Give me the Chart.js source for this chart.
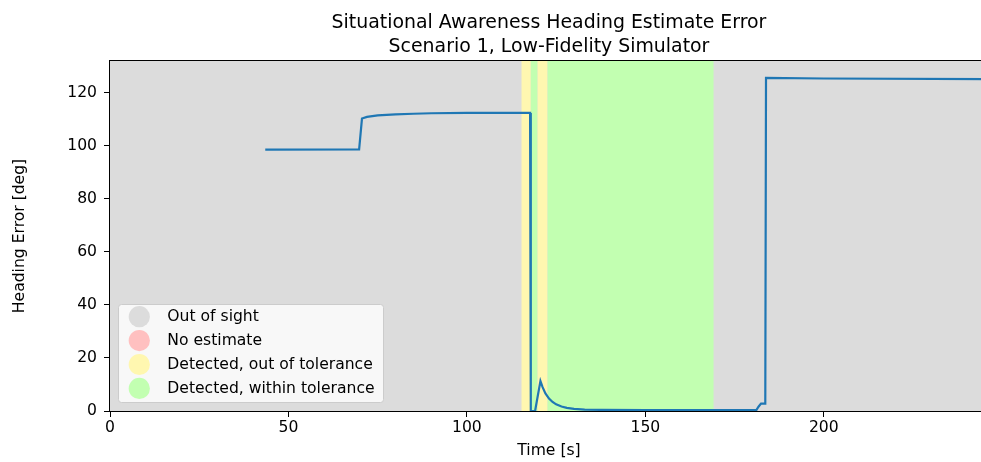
<!DOCTYPE html>
<html>
<head>
<meta charset="utf-8">
<script src="https://cdn.jsdelivr.net/npm/chart.js@4.4.1/dist/chart.umd.min.js"></script>
<style>
    html, body { margin: 0; padding: 0; background: #fff; overflow: hidden; }
    #wrap { width: 988px; height: 462px; }
</style>
</head>
<body>
<div id="wrap"><canvas id="myChart" width="988" height="462"></canvas></div>
<script>
var titleLines = ['Situational Awareness Heading Estimate Error', 'Scenario 1, Low-Fidelity Simulator'];

// heading error trace
var times   = [43.5, 69.8, 70.6, 72, 75, 80, 85, 90, 100, 117.7, 117.9, 119.1, 120.6, 121.2, 122, 123, 124, 125, 126.5, 128, 130, 133, 138, 150, 181.1, 181.7, 182.4, 183.6, 183.8, 200, 246];
var heading = [98.6, 98.7, 110.3, 110.9, 111.5, 111.9, 112.1, 112.3, 112.4, 112.4, 0, 0, 11.3, 9.0, 6.6, 4.7, 3.4, 2.5, 1.7, 1.2, 0.8, 0.55, 0.4, 0.35, 0.35, 1.6, 2.8, 2.8, 125.6, 125.4, 125.2];

// detection states
var stateNames  = ['Out of sight', 'No estimate', 'Detected, out of tolerance', 'Detected, within tolerance'];
var stateColors = ['#dcdcdc', '#ffc0c0', '#fff7b0', '#c2ffb1'];

// periods where the state differs from "out of sight"
var spanStart = [115.3, 117.9, 119.8, 122.6];
var spanEnd   = [117.9, 119.8, 122.6, 169.1];
var spanState = [2, 3, 2, 3];

var xTicksStep = 50;
var yTicksStep = 20;

var FONT = 'DejaVu Sans';
var LABEL_SIZE = 15.6;

var points = times.map(function (t, i) { return { x: t, y: heading[i] }; });

var shading = {
    id: 'shading',
    beforeDatasetsDraw: function (chart) {
        var ctx = chart.ctx, a = chart.chartArea, x = chart.scales.x;
        ctx.save();
        ctx.fillStyle = stateColors[0];
        ctx.fillRect(a.left, a.top, a.right - a.left, a.bottom - a.top);
        for (var i = 0; i < spanStart.length; i++) {
            var x0 = x.getPixelForValue(spanStart[i]);
            var x1 = x.getPixelForValue(spanEnd[i]);
            ctx.fillStyle = stateColors[spanState[i]];
            ctx.fillRect(x0, a.top, x1 - x0, a.bottom - a.top);
        }
        ctx.restore();
    },
    afterDatasetsDraw: function (chart) {
        var ctx = chart.ctx, a = chart.chartArea;
        ctx.save();
        ctx.strokeStyle = '#000';
        ctx.lineWidth = 1;
        ctx.strokeRect(a.left - 0.5, a.top - 0.5, a.right - a.left + 1, a.bottom - a.top + 1);
        ctx.restore();
    },
    afterDraw: function (chart) {
        var ctx = chart.ctx, a = chart.chartArea;
        ctx.save();
        // title
        ctx.fillStyle = '#000';
        ctx.font = '18.9px "' + FONT + '"';
        ctx.textAlign = 'center';
        ctx.textBaseline = 'alphabetic';
        var cx = (a.left + a.right) / 2;
        ctx.fillText(titleLines[0], cx, 27.5);
        ctx.fillText(titleLines[1], cx, 51.5);

        // legend box
        var bx = 118.5, by = 304.5, bw = 265, bh = 98;
        ctx.beginPath();
        ctx.roundRect(bx, by, bw, bh, 3);
        ctx.fillStyle = 'rgba(255,255,255,0.8)';
        ctx.fill();
        ctx.strokeStyle = '#cccccc';
        ctx.lineWidth = 1;
        ctx.stroke();
        ctx.font = LABEL_SIZE + 'px "' + FONT + '"';
        ctx.textAlign = 'left';
        ctx.textBaseline = 'middle';
        for (var i = 0; i < stateNames.length; i++) {
            var cy = 316.7 + i * 23.9;
            ctx.beginPath();
            ctx.arc(139.3, cy, 10.6, 0, Math.PI * 2);
            ctx.fillStyle = stateColors[i];
            ctx.fill();
            ctx.fillStyle = '#000';
            ctx.fillText(stateNames[i], 167.3, cy + 0.5);
        }
        ctx.restore();
    }
};

var ctx = document.getElementById('myChart').getContext('2d');
var myChart = new Chart(ctx, {
    type: 'line',
    data: {
        datasets: [{
            data: points,
            borderColor: '#1f77b4',
            borderWidth: 2.2,
            pointRadius: 0,
            tension: 0,
            fill: false
        }]
    },
    options: {
        responsive: false,
        animation: false,
        devicePixelRatio: 1,
        layout: { padding: { top: 61, left: 0, right: 0, bottom: 0 } },
        plugins: {
            legend: { display: false },
            title: { display: false },
            tooltip: { enabled: false }
        },
        scales: {
            x: {
                type: 'linear',
                min: 0,
                max: 246,
                afterFit: function (scale) { scale.height = 51; },
                border: { display: true, color: '#000', width: 1 },
                grid: { drawOnChartArea: false, drawTicks: true, tickLength: 6, color: '#000' },
                ticks: {
                    stepSize: xTicksStep,
                    includeBounds: false,
                    autoSkip: false,
                    maxRotation: 0,
                    padding: 2,
                    color: '#000',
                    font: { family: FONT, size: LABEL_SIZE }
                },
                title: {
                    display: true,
                    text: 'Time [s]',
                    color: '#000',
                    font: { family: FONT, size: LABEL_SIZE },
                    padding: { top: 0, bottom: 2 }
                }
            },
            y: {
                min: 0,
                max: 132,
                afterFit: function (scale) { scale.width = 110; },
                border: { display: true, color: '#000', width: 1 },
                grid: { drawOnChartArea: false, drawTicks: true, tickLength: 6, color: '#000' },
                ticks: {
                    stepSize: yTicksStep,
                    includeBounds: false,
                    padding: 7,
                    color: '#000',
                    font: { family: FONT, size: LABEL_SIZE }
                },
                title: {
                    display: true,
                    text: 'Heading Error [deg]',
                    color: '#000',
                    font: { family: FONT, size: LABEL_SIZE },
                    padding: { top: 11, bottom: 0 }
                }
            }
        }
    },
    plugins: [shading]
});
</script>
</body>
</html>
